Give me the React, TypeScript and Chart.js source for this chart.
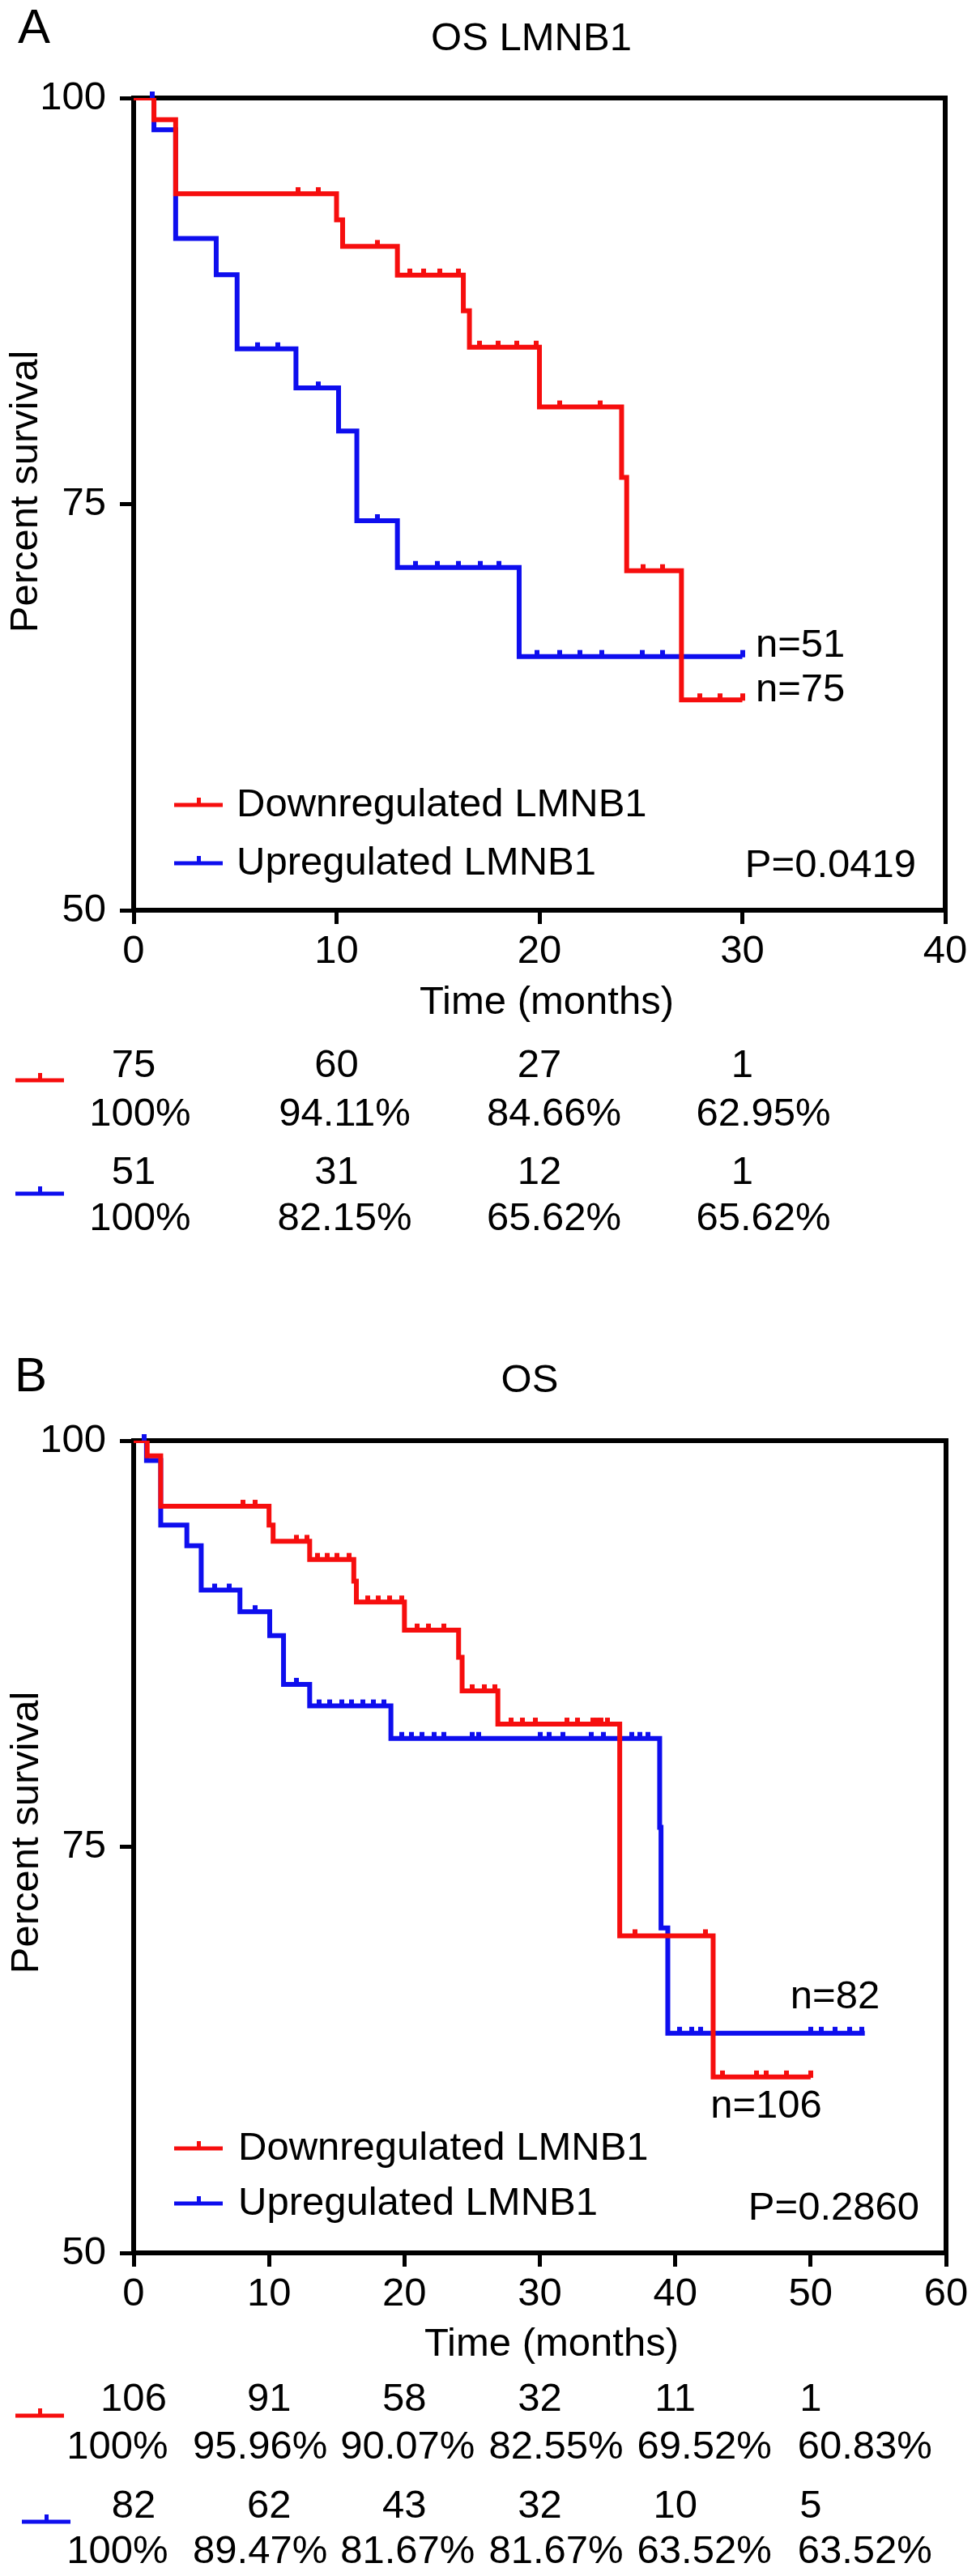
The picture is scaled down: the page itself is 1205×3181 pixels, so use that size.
import { useEffect, useRef } from "react"
import { Chart, registerables } from "chart.js"

Chart.register(...registerables)

const FONT = "'Liberation Sans', Arial, Helvetica, sans-serif"
const RED = "rgb(246, 14, 14)"
const BLUE = "rgb(14, 14, 238)"
const GROUPS = ["Downregulated LMNB1", "Upregulated LMNB1"]

// ---- Panel A: OS LMNB1 (months, % survival) ----
const aRedTimes = [0, 1.0, 2.07, 10.0, 10.3, 13.0, 16.25, 16.55, 20.0, 24.05, 24.3, 27.0, 30.0]
const aRedSurv = [100, 98.67, 94.11, 92.5, 90.86, 89.1, 86.9, 84.66, 80.98, 76.65, 70.9, 62.95, 62.95]
const aRedCensor = [8.1, 9.1, 12.0, 13.6, 14.3, 15.1, 16.0, 17.05, 17.97, 18.9, 19.86, 21.0, 23.0, 25.1, 26.05, 27.9, 28.9, 30.0]
const aBlueTimes = [0, 1.0, 2.07, 4.07, 5.1, 8.0, 10.1, 11.0, 13.0, 19.0, 30.0]
const aBlueSurv = [100, 98.04, 91.35, 89.12, 84.56, 82.15, 79.5, 73.98, 71.1, 65.62, 65.62]
const aBlueCensor = [0.9, 6.1, 7.1, 9.1, 12.0, 13.9, 14.96, 16.0, 17.1, 18.0, 19.9, 21.0, 22.0, 23.07, 25.06, 26.05, 30.0]
const aRiskTimes = [0, 10, 20, 30]
const aRedAtRisk = [75, 60, 27, 1]
const aRedPct = ["100%", "94.11%", "84.66%", "62.95%"]
const aBlueAtRisk = [51, 31, 12, 1]
const aBluePct = ["100%", "82.15%", "65.62%", "65.62%"]

// ---- Panel B: OS ----
const bRedTimes = [0, 1.0, 2.0, 10.0, 10.3, 13.0, 16.26, 16.45, 20.0, 24.0, 24.26, 26.9, 35.9, 42.8, 50.0]
const bRedSurv = [100, 99.06, 95.96, 94.8, 93.8, 92.69, 91.35, 90.07, 88.34, 86.67, 84.6, 82.55, 69.52, 60.83, 60.83]
const bRedCensor = [8.07, 8.98, 12.0, 12.8, 13.6, 14.3, 15.0, 15.9, 17.3, 18.05, 18.9, 19.8, 20.96, 21.8, 22.9, 25.0, 25.9, 26.7, 27.9, 28.7, 29.7, 32.0, 32.8, 33.9, 34.2, 34.5, 35.0, 37.05, 42.25, 43.5, 46.0, 46.7, 48.2, 50.0]
const bBlueTimes = [0, 0.95, 2.0, 3.93, 4.99, 7.85, 10.05, 11.07, 13.0, 19.0, 38.85, 38.95, 39.45, 54.0]
const bBlueSurv = [100, 98.78, 94.8, 93.53, 90.8, 89.47, 88.0, 85.0, 83.67, 81.67, 76.2, 70.0, 63.52, 63.52]
const bBlueCensor = [0.8, 6.0, 7.05, 9.0, 12.0, 13.7, 14.5, 15.4, 16.1, 16.9, 17.7, 18.5, 19.8, 20.5, 21.3, 22.2, 22.9, 25.0, 25.5, 30.0, 30.7, 31.7, 33.8, 34.7, 36.8, 37.4, 38.0, 40.3, 41.2, 41.9, 50.0, 50.8, 51.8, 52.9, 53.8]
const bRiskTimes = [0, 10, 20, 30, 40, 50]
const bRedAtRisk = [106, 91, 58, 32, 11, 1]
const bRedPct = ["100%", "95.96%", "90.07%", "82.55%", "69.52%", "60.83%"]
const bBlueAtRisk = [82, 62, 43, 32, 10, 5]
const bBluePct = ["100%", "89.47%", "81.67%", "81.67%", "63.52%", "63.52%"]

const W = 1205

// survival value of a step curve at time t (last step at or before t)
function stepValue(times: number[], surv: number[], t: number) {
  let v = surv[0]
  for (let i = 0; i < times.length; i++) if (times[i] <= t) v = surv[i]
  return v
}

// small upward tick used for censored cases
function censorMark(color: string) {
  const c = document.createElement("canvas")
  c.width = 6
  c.height = 20
  const g = c.getContext("2d")!
  g.fillStyle = color
  g.fillRect(0, 2, 6, 9)
  return c
}

type Curve = {
  times: number[]
  surv: number[]
  censor: number[]
  color: string
  label: string
  atRisk: number[]
  pct: string[]
}

type Layout = {
  height: number
  top: number
  bottom: number
  left: number
  right: number
  letterX: number
  letterY: number
  titleX: number
  titleY: number
  yTitleX: number
  yTitleY: number
  xTitleX: number
  xTitleY: number
  legendY: number[]
  legendTextX: number
  pRight: number
  pY: number
  nText: { text: string; x: number; y: number; align: CanvasTextAlign }[]
  riskY: number[] // red count, red pct, blue count, blue pct
  riskMark: { x: number; y: number }[]
  pctShift: number[]
}

type PanelProps = {
  letter: string
  title: string
  xMax: number
  curves: Curve[]
  riskTimes: number[]
  pValue: string
  L: Layout
}

function KMPanel({ letter, title, xMax, curves, riskTimes, pValue, L }: PanelProps) {
  const chartRef = useRef<HTMLCanvasElement>(null)
  const chartInstance = useRef<Chart | null>(null)

  useEffect(() => {
    if (!chartRef.current) return
    if (chartInstance.current) chartInstance.current.destroy()

    const datasets: any[] = []
    curves.forEach((c) => {
      datasets.push({
        label: c.label,
        data: c.times.map((t, i) => ({ x: t, y: c.surv[i] })),
        borderColor: c.color,
        borderWidth: 6,
        stepped: "before",
        pointRadius: 0,
        fill: false,
      })
      datasets.push({
        label: c.label + " censored",
        data: c.censor.map((t) => ({ x: t, y: stepValue(c.times, c.surv, t) })),
        showLine: false,
        pointStyle: censorMark(c.color),
        pointRadius: 5,
        clip: false,
      })
    })

    const decor = {
      id: "kmDecor",
      beforeDatasetsDraw(chart: Chart) {
        const { ctx, chartArea: a } = chart
        ctx.save()
        ctx.strokeStyle = "#000"
        ctx.lineWidth = 6
        ctx.lineCap = "square"
        ctx.beginPath()
        ctx.moveTo(a.left, a.top)
        ctx.lineTo(a.right, a.top)
        ctx.lineTo(a.right, a.bottom)
        ctx.stroke()
        ctx.restore()
      },
      afterDraw(chart: Chart) {
        const { ctx } = chart
        const xs = chart.scales.x
        const text = (s: string, x: number, y: number, align: CanvasTextAlign = "center", size = 49) => {
          ctx.font = `${size}px ${FONT}`
          ctx.fillStyle = "#000"
          ctx.textAlign = align
          ctx.textBaseline = "middle"
          ctx.fillText(s, x, y)
        }
        const mark = (color: string, x: number, y: number) => {
          ctx.fillStyle = color
          ctx.fillRect(x, y - 2.5, 60, 5)
          ctx.fillRect(x + 28, y - 9, 5, 8)
        }
        ctx.save()
        text(letter, L.letterX, L.letterY, "left", 60)
        text(title, L.titleX, L.titleY)
        text("Time (months)", L.xTitleX, L.xTitleY)
        ctx.save()
        ctx.translate(L.yTitleX, L.yTitleY)
        ctx.rotate(-Math.PI / 2)
        text("Percent survival", 0, 0)
        ctx.restore()

        // legend inside the plot
        curves.forEach((c, i) => {
          mark(c.color, 215, L.legendY[i])
          text(c.label, L.legendTextX, L.legendY[i], "left")
        })
        text(pValue, L.pRight, L.pY, "right")
        L.nText.forEach((n) => text(n.text, n.x, n.y, n.align))

        // numbers at risk and survival under the axis
        curves.forEach((c, i) => {
          mark(c.color, L.riskMark[i].x, L.riskMark[i].y)
          riskTimes.forEach((t, j) => {
            const px = xs.getPixelForValue(t)
            text(String(c.atRisk[j]), px, L.riskY[i * 2])
            text(c.pct[j], px + L.pctShift[j], L.riskY[i * 2 + 1])
          })
        })
        ctx.restore()
      },
    }

    const font = { family: FONT, size: 49 }
    const grid = { drawOnChartArea: false, drawTicks: true, tickLength: 17, tickWidth: 5, lineWidth: 5, color: "#000" }

    chartInstance.current = new Chart(chartRef.current, {
      type: "line",
      data: { datasets },
      options: {
        animation: false,
        responsive: false,
        devicePixelRatio: 1,
        events: [],
        layout: { padding: { top: L.top, right: W - L.right, left: 0, bottom: 0 } },
        plugins: { legend: { display: false }, tooltip: { enabled: false } },
        scales: {
          x: {
            type: "linear",
            min: 0,
            max: xMax,
            ticks: { stepSize: 10, font, color: "#000", padding: 5, maxRotation: 0 },
            grid,
            border: { width: 6, color: "#000" },
            afterFit: (s: any) => {
              s.height = L.height - L.bottom
            },
          },
          y: {
            type: "linear",
            min: 50,
            max: 100,
            ticks: { stepSize: 25, font, color: "#000", padding: 17 },
            grid,
            border: { width: 6, color: "#000" },
            afterFit: (s: any) => {
              s.width = L.left
            },
          },
        },
      } as any,
      plugins: [decor],
    })

    return () => {
      if (chartInstance.current) {
        chartInstance.current.destroy()
        chartInstance.current = null
      }
    }
  }, [])

  return <canvas ref={chartRef} width={W} height={L.height} style={{ display: "block" }} />
}

const layoutA: Layout = {
  height: 1590,
  top: 121,
  bottom: 1124,
  left: 165,
  right: 1167,
  letterX: 22,
  letterY: 36,
  titleX: 656,
  titleY: 48,
  yTitleX: 32,
  yTitleY: 607,
  xTitleX: 675,
  xTitleY: 1238,
  legendY: [994, 1066],
  legendTextX: 292,
  pRight: 1131,
  pY: 1069,
  nText: [
    { text: "n=51", x: 933, y: 797, align: "left" },
    { text: "n=75", x: 933, y: 852, align: "left" },
  ],
  riskY: [1316, 1376, 1448, 1505],
  riskMark: [
    { x: 19, y: 1334 },
    { x: 19, y: 1474 },
  ],
  pctShift: [8, 10, 18, 26],
}

const layoutB: Layout = {
  height: 1591,
  top: 189,
  bottom: 1192,
  left: 165,
  right: 1168,
  letterX: 18,
  letterY: 111,
  titleX: 654,
  titleY: 115,
  yTitleX: 33,
  yTitleY: 673,
  xTitleX: 681,
  xTitleY: 1305,
  legendY: [1063, 1131],
  legendTextX: 294,
  pRight: 1135,
  pY: 1137,
  nText: [
    { text: "n=82", x: 1031, y: 876, align: "center" },
    { text: "n=106", x: 946, y: 1011, align: "center" },
  ],
  riskY: [1373, 1432, 1505, 1561],
  riskMark: [
    { x: 19, y: 1393 },
    { x: 27, y: 1524 },
  ],
  pctShift: [-20, -11, 4, 20, 36, 67],
}

export default function App() {
  const curvesA: Curve[] = [
    { times: aRedTimes, surv: aRedSurv, censor: aRedCensor, color: RED, label: GROUPS[0], atRisk: aRedAtRisk, pct: aRedPct },
    { times: aBlueTimes, surv: aBlueSurv, censor: aBlueCensor, color: BLUE, label: GROUPS[1], atRisk: aBlueAtRisk, pct: aBluePct },
  ]
  const curvesB: Curve[] = [
    { times: bRedTimes, surv: bRedSurv, censor: bRedCensor, color: RED, label: GROUPS[0], atRisk: bRedAtRisk, pct: bRedPct },
    { times: bBlueTimes, surv: bBlueSurv, censor: bBlueCensor, color: BLUE, label: GROUPS[1], atRisk: bBlueAtRisk, pct: bBluePct },
  ]
  return (
    <div style={{ position: "absolute", top: 0, left: 0, width: W, background: "#fff" }}>
      <KMPanel letter="A" title="OS LMNB1" xMax={40} curves={curvesA} riskTimes={aRiskTimes} pValue="P=0.0419" L={layoutA} />
      <KMPanel letter="B" title="OS" xMax={60} curves={curvesB} riskTimes={bRiskTimes} pValue="P=0.2860" L={layoutB} />
    </div>
  )
}
